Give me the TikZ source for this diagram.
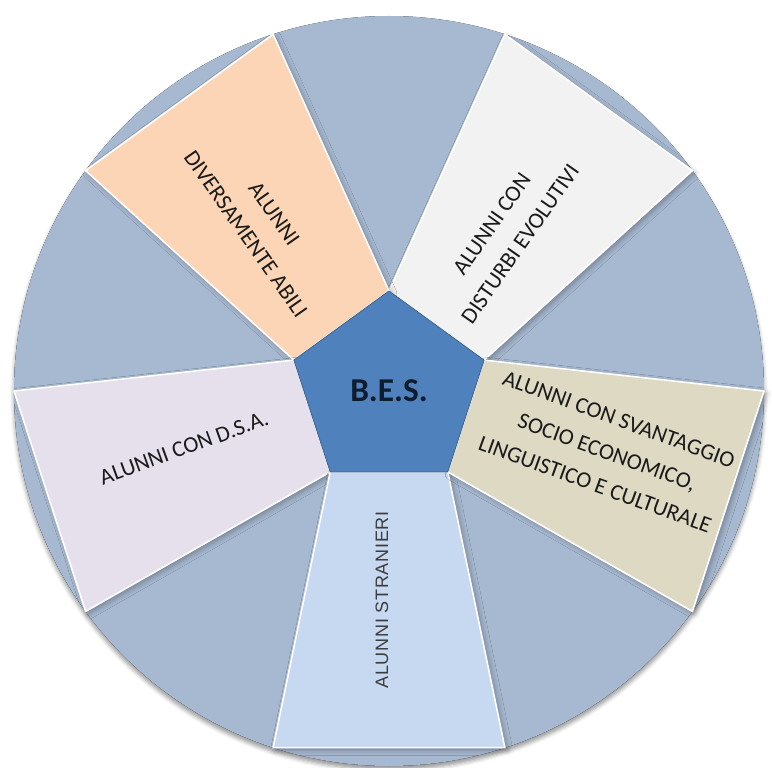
\documentclass[tikz,border=0pt]{standalone}
\usepackage{fontspec}
\setmainfont{Carlito}
\newfontfamily\thinfont[LetterSpace=4]{Liberation Sans}
\usetikzlibrary{shapes.geometric}
\usetikzlibrary{shadows.blur}

\definecolor{rimin}{HTML}{A7B9D1}
\definecolor{rimout}{HTML}{8598B4}
\definecolor{pentblue}{HTML}{4F81BD}
\definecolor{besnavy}{HTML}{0F1B2E}
\definecolor{peach}{HTML}{FBD5B5}
\definecolor{offwhite}{HTML}{F2F2F2}
\definecolor{khaki}{HTML}{DDD9C3}
\definecolor{paleblue}{HTML}{C6D9F1}
\definecolor{lavender}{HTML}{E5E0EC}
\definecolor{textblack}{HTML}{1A1A1A}
\pgfdeclareradialshading{rim}{\pgfpoint{0bp}{0bp}}{color(0bp)=(rimin); color(43bp)=(rimin); color(50bp)=(rimout); color(100bp)=(rimout)}

\begin{document}
\begin{tikzpicture}[x=0.75pt, y=0.75pt]
  % styles of the wheel
  \tikzset{
    sector/.style={draw=white, line width=1.2pt, line join=round,
      blur shadow={shadow xshift=2pt, shadow yshift=-2pt,
        shadow blur radius=4pt, shadow opacity=30}},
    lbl/.style={text=textblack, align=center, inner sep=0pt,
      font=\fontsize{17}{26}\selectfont},
  }
  \useasboundingbox (-389,-377) rectangle (383,391);

  % The background disc
  \fill[shading=rim, blur shadow={shadow xshift=0pt, shadow yshift=-3pt,
      shadow blur radius=3pt, shadow opacity=40}] (0,0) circle (375);

  % corners of the pentagon and of the outer ring
  \foreach \i/\a in {1/90, 2/162, 3/234, 4/306, 5/18}
    \coordinate (p\i) at (\a:100);
  \foreach \i [evaluate=\i as \a using \i*36] in {0,...,9}
    \coordinate (o\i) at (\a:375);

  % The five sectors
  \filldraw[sector, fill=offwhite] (p5) -- (p1) -- (o2) -- (o1) -- cycle;
  \filldraw[sector, fill=peach] (p1) -- (p2) -- (o4) -- (o3) -- cycle;
  \filldraw[sector, fill=lavender] (p2) -- (p3) -- (o6) -- (o5) -- cycle;
  \filldraw[sector, fill=paleblue] (p3) -- (p4) -- (o8) -- (o7) -- cycle;
  \filldraw[sector, fill=khaki] (p4) -- (p5) -- (o0) -- (o9) -- cycle;

  % Texts of the sectors
  \node[lbl, rotate=-55] (abili) at (-129,167) {ALUNNI\\DIVERSAMENTE ABILI};
  \node[lbl, rotate=55] (disturbi) at (117,157) {ALUNNI CON\\DISTURBI EVOLUTIVI};
  \node[lbl, rotate=-20] (svantaggio) at (218,-61)
    {ALUNNI CON SVANTAGGIO\\SOCIO ECONOMICO,\\LINGUISTICO E CULTURALE};
  \node[lbl, rotate=90, text=textblack!85, font=\thinfont\fontsize{13.5}{17}\selectfont]
    (stranieri) at (-7,-209) {ALUNNI STRANIERI};
  \node[lbl, rotate=20] (dsa) at (-205,-57) {ALUNNI CON D.S.A.};

  % The centre
  \node[regular polygon, regular polygon sides=5, minimum size=150pt,
    inner sep=0pt, outer sep=0pt, fill=pentblue, draw=pentblue!75!black,
    line width=0.6pt, text=besnavy, font=\fontsize{25}{30}\selectfont\bfseries]
    (bes) at (0,0) {B.E.S.};
\end{tikzpicture}
\end{document}
